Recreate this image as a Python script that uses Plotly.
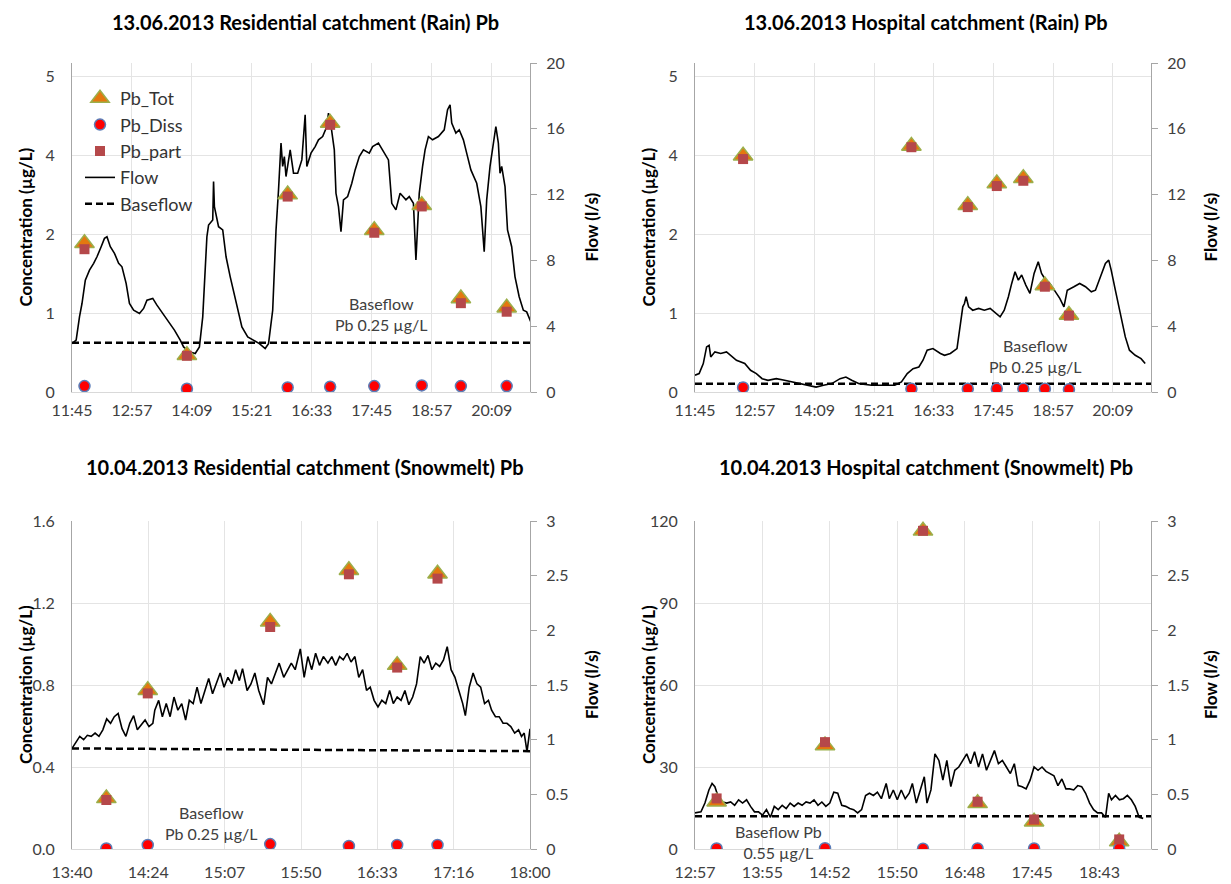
import plotly.graph_objects as go

# ---------------- data ----------------
# times are minutes after midnight
p1_time = [705, 710, 714, 717, 721, 726, 731, 735, 740, 744,
           747, 751, 756, 761, 765, 770, 774, 779, 786, 791,
           795, 802, 807, 814, 821, 828, 835, 839, 846, 853,
           858, 862, 867, 869, 874, 875, 876, 881, 886, 890,
           895, 902, 909, 916, 923, 930, 937, 941, 946, 948,
           950, 953, 956, 958, 960, 962, 967, 971, 976, 981,
           985, 987, 992, 997, 1001, 1006, 1011, 1013, 1015, 1020,
           1022, 1025, 1028, 1031, 1036, 1041, 1045, 1050, 1055, 1062,
           1066, 1073, 1080, 1085, 1089, 1094, 1099, 1106, 1110, 1115,
           1118, 1122, 1126, 1129, 1133, 1138, 1145, 1152, 1156, 1159,
           1161, 1166, 1170, 1175, 1180, 1184, 1191, 1196, 1200, 1203,
           1207, 1212, 1214, 1217, 1219, 1221, 1225, 1228, 1233, 1237,
           1242, 1247, 1251, 1256]
p1_flow = [2.94, 3.15, 4.57, 5.38, 6.80, 7.41, 7.82, 8.22, 8.83, 9.34,
           9.44, 8.83, 8.43, 7.82, 7.61, 6.60, 5.38, 4.97, 4.77, 5.08,
           5.58, 5.69, 5.28, 4.77, 4.26, 3.76, 3.15, 2.74, 2.44, 2.34,
           2.74, 4.57, 9.44, 10.15, 10.46, 12.79, 11.27, 10.05, 9.85, 8.22,
           7.00, 5.38, 3.96, 3.35, 3.15, 2.94, 2.64, 2.94, 4.97, 7.61,
           9.85, 12.28, 15.13, 13.71, 14.31, 13.10, 14.72, 13.30, 13.30, 14.11,
           16.85, 13.71, 14.52, 14.92, 15.33, 15.53, 16.14, 16.95, 16.55, 14.72,
           12.08, 11.27, 9.75, 11.68, 11.88, 12.69, 13.50, 14.31, 14.72, 14.52,
           14.92, 15.13, 14.52, 14.11, 11.47, 11.07, 12.08, 11.68, 11.88, 11.47,
           8.02, 12.08, 13.71, 14.72, 15.53, 15.33, 15.53, 15.94, 17.16, 17.46,
           16.35, 15.74, 15.94, 15.33, 14.31, 13.50, 12.69, 11.27, 8.53, 11.68,
           13.71, 15.53, 16.14, 15.13, 13.30, 13.71, 12.49, 9.85, 8.83, 7.00,
           5.79, 4.97, 4.87, 4.26]

p2_time = [705, 710, 715, 719, 722, 724, 729, 736, 743, 748,
           755, 765, 772, 779, 786, 793, 803, 813, 822, 832,
           841, 851, 860, 870, 880, 887, 894, 903, 918, 932,
           946, 954, 961, 968, 975, 980, 985, 992, 1001, 1006,
           1013, 1021, 1025, 1028, 1030, 1032, 1035, 1040, 1047, 1054,
           1061, 1068, 1073, 1078, 1083, 1087, 1091, 1095, 1099, 1104,
           1109, 1114, 1119, 1123, 1128, 1133, 1138, 1145, 1150, 1154,
           1162, 1169, 1176, 1183, 1188, 1195, 1200, 1204, 1207, 1212,
           1219, 1224, 1229, 1236, 1243, 1248]
p2_flow = [1.02, 1.12, 1.73, 2.74, 2.84, 2.13, 2.44, 2.34, 2.44, 2.23,
           1.93, 1.73, 1.32, 1.12, 0.81, 0.71, 0.81, 0.71, 0.61, 0.51,
           0.41, 0.30, 0.41, 0.51, 0.81, 0.91, 0.71, 0.51, 0.41, 0.41,
           0.41, 0.61, 1.12, 1.42, 1.52, 1.93, 2.54, 2.64, 2.34, 2.23,
           2.34, 2.64, 4.16, 5.18, 5.38, 5.79, 5.18, 4.97, 5.08, 4.97,
           5.08, 4.77, 4.57, 4.97, 5.79, 6.60, 7.31, 6.80, 7.11, 6.50,
           5.99, 7.21, 7.92, 7.21, 6.80, 6.60, 6.19, 5.69, 5.18, 6.19,
           6.40, 6.60, 6.40, 6.09, 6.19, 7.21, 7.82, 8.02, 7.41, 6.19,
           4.57, 3.35, 2.54, 2.23, 2.03, 1.73]

p3_time = [820.0, 822.2, 824.4, 826.6, 828.7, 830.9, 833.1, 835.3, 837.5, 839.7,
           841.9, 844.0, 846.2, 848.4, 850.6, 852.8, 855.0, 857.1, 859.3, 861.5,
           863.7, 865.9, 867.0, 869.2, 871.3, 873.5, 875.7, 877.9, 880.1, 882.3,
           884.5, 886.6, 888.8, 891.0, 893.2, 895.4, 897.6, 899.8, 901.9, 904.1,
           906.3, 908.5, 910.7, 912.9, 915.0, 916.8, 919.4, 921.6, 923.8, 926.0,
           928.8, 931.0, 933.2, 935.4, 937.6, 940.2, 942.4, 944.5, 946.7, 949.6,
           951.8, 953.9, 956.1, 958.3, 960.5, 962.7, 965.3, 967.5, 969.7, 971.9,
           974.0, 976.2, 978.4, 980.6, 982.8, 985.0, 987.2, 989.3, 991.5, 993.7,
           995.9, 998.1, 1000.3, 1002.4, 1004.6, 1006.8, 1009.0, 1011.2, 1013.4, 1015.6,
           1017.7, 1019.9, 1022.1, 1024.3, 1026.5, 1028.7, 1030.9, 1033.0, 1035.2, 1037.4,
           1039.6, 1041.8, 1043.3, 1045.5, 1047.7, 1049.9, 1052.0, 1054.2, 1056.4, 1058.2,
           1060.4, 1062.5, 1064.7, 1066.9, 1069.1, 1071.3, 1073.5, 1075.2, 1076.7, 1078.3,
           1080.0]
p3_flow = [0.92, 0.98, 1.03, 1.00, 1.04, 1.03, 1.06, 1.03, 1.09, 1.19,
           1.15, 1.21, 1.24, 1.10, 1.03, 1.15, 1.22, 1.09, 1.13, 1.18,
           1.12, 1.15, 1.27, 1.36, 1.21, 1.33, 1.21, 1.39, 1.27, 1.33,
           1.18, 1.36, 1.33, 1.48, 1.33, 1.45, 1.56, 1.42, 1.51, 1.61,
           1.48, 1.57, 1.51, 1.64, 1.54, 1.65, 1.45, 1.51, 1.61, 1.45,
           1.32, 1.57, 1.51, 1.61, 1.70, 1.57, 1.64, 1.70, 1.64, 1.83,
           1.57, 1.76, 1.64, 1.79, 1.68, 1.76, 1.70, 1.76, 1.68, 1.76,
           1.73, 1.79, 1.71, 1.76, 1.57, 1.64, 1.45, 1.48, 1.36, 1.30,
           1.36, 1.33, 1.45, 1.33, 1.39, 1.36, 1.45, 1.32, 1.39, 1.51,
           1.76, 1.70, 1.77, 1.64, 1.70, 1.67, 1.73, 1.85, 1.64, 1.57,
           1.45, 1.33, 1.22, 1.48, 1.61, 1.51, 1.48, 1.33, 1.36, 1.27,
           1.21, 1.21, 1.15, 1.15, 1.12, 1.06, 1.09, 1.03, 1.06, 0.89,
           1.10]

p4_time = [777.0, 782.1, 785.5, 788.9, 791.6, 794.0, 797.4, 800.7, 804.1, 807.5,
           810.9, 814.3, 817.7, 821.1, 824.5, 827.9, 831.3, 834.7, 838.1, 841.5,
           844.8, 848.2, 851.6, 855.0, 858.4, 861.8, 865.2, 868.6, 872.0, 875.4,
           878.8, 882.2, 885.5, 888.9, 892.3, 895.7, 899.1, 902.5, 905.9, 909.3,
           912.7, 916.1, 919.5, 922.9, 926.2, 929.6, 933.0, 936.4, 940.5, 943.2,
           946.6, 950.0, 953.4, 956.8, 960.2, 962.9, 966.3, 969.7, 973.1, 975.4,
           978.8, 982.2, 985.6, 989.0, 992.4, 995.8, 999.2, 1002.6, 1006.0, 1009.4,
           1012.7, 1016.1, 1019.5, 1022.9, 1026.3, 1029.7, 1033.1, 1036.5, 1039.9, 1043.3,
           1046.7, 1050.1, 1053.4, 1056.8, 1060.2, 1063.6, 1067.0, 1070.4, 1073.8, 1077.2,
           1080.6, 1084.0, 1087.4, 1090.8, 1094.2, 1097.5, 1100.9, 1104.3, 1107.7, 1111.1,
           1114.5, 1117.9, 1121.3, 1124.7, 1128.1, 1130.8, 1133.2, 1136.6, 1140.0, 1143.4,
           1146.8, 1150.2, 1153.5, 1156.9, 1160.3]
p4_flow = [0.33, 0.34, 0.42, 0.54, 0.60, 0.57, 0.46, 0.43, 0.42, 0.43,
           0.40, 0.45, 0.42, 0.45, 0.39, 0.34, 0.34, 0.31, 0.36, 0.29,
           0.39, 0.36, 0.40, 0.37, 0.42, 0.39, 0.42, 0.40, 0.43, 0.42,
           0.45, 0.40, 0.43, 0.39, 0.42, 0.52, 0.51, 0.40, 0.39, 0.37,
           0.36, 0.33, 0.36, 0.49, 0.51, 0.49, 0.52, 0.46, 0.60, 0.46,
           0.54, 0.45, 0.54, 0.46, 0.51, 0.60, 0.42, 0.54, 0.66, 0.42,
           0.54, 0.87, 0.81, 0.63, 0.81, 0.57, 0.72, 0.75, 0.81, 0.87,
           0.78, 0.89, 0.75, 0.87, 0.72, 0.81, 0.90, 0.78, 0.81, 0.75,
           0.69, 0.78, 0.58, 0.57, 0.55, 0.63, 0.75, 0.72, 0.75, 0.71,
           0.69, 0.67, 0.58, 0.64, 0.55, 0.55, 0.54, 0.58, 0.57, 0.51,
           0.42, 0.36, 0.33, 0.33, 0.29, 0.51, 0.45, 0.49, 0.45, 0.46,
           0.49, 0.45, 0.39, 0.29, 0.28]

# sampling times and Pb concentrations (µg/L)
p1_samp = [720, 843, 964, 1015, 1068, 1125, 1172, 1227]
p1_tot = [2.26, 0.56, 3.00, 4.09, 2.46, 2.84, 1.42, 1.28]
p1_diss = [0.09, 0.05, 0.07, 0.08, 0.09, 0.10, 0.09, 0.09]
p1_part = [2.17, 0.55, 2.97, 4.06, 2.42, 2.82, 1.35, 1.22]

p2_samp = [763, 966, 1034, 1069, 1101, 1127, 1156]
p2_tot = [3.59, 3.74, 2.84, 3.17, 3.25, 1.62, 1.17]
p2_diss = [0.07, 0.05, 0.05, 0.05, 0.05, 0.05, 0.04]
p2_part = [3.54, 3.72, 2.81, 3.13, 3.21, 1.60, 1.16]

p3_samp = [839.5, 863, 932.5, 977.2, 1004.6, 1027.5]
p3_tot = [0.247, 0.775, 1.108, 1.36, 0.897, 1.343]
p3_diss = [0.003, 0.02, 0.024, 0.015, 0.02, 0.02]
p3_part = [0.239, 0.759, 1.083, 1.34, 0.885, 1.319]

p4_samp = [795.5, 888.2, 972, 1018.7, 1067, 1139.8]
p4_tot = [17.3, 37.9, 116.4, 16.7, 10.0, 2.7]
p4_diss = [0.2, 0.3, 0.1, 0.2, 0.2, 0.2]
p4_part = [18.5, 39.1, 116.4, 17.3, 10.8, 3.5]

# baseflow (l/s) at start and end of each record
p1_base = [3.0, 3.0]
p2_base = [0.5, 0.5]
p3_base = [0.92, 0.895]
p4_base = [0.3, 0.3]

titles = ["13.06.2013 Residential catchment (Rain) Pb",
          "13.06.2013 Hospital catchment (Rain) Pb",
          "10.04.2013 Residential catchment (Snowmelt) Pb",
          "10.04.2013 Hospital catchment (Snowmelt) Pb"]

rain_ticks = [705, 777, 849, 921, 993, 1065, 1137, 1209]
rain_labels = ["11:45", "12:57", "14:09", "15:21", "16:33", "17:45", "18:57", "20:09"]
res_snow_ticks = [820, 863.33, 906.67, 950, 993.33, 1036.67, 1080]
res_snow_labels = ["13:40", "14:24", "15:07", "15:50", "16:33", "17:16", "18:00"]
hos_snow_ticks = [777, 834.67, 892.33, 950, 1007.67, 1065.33, 1123]
hos_snow_labels = ["12:57", "13:55", "14:52", "15:50", "16:48", "17:45", "18:43"]

rain_conc_ticks = [0, 1.2, 2.4, 3.6, 4.8]
rain_conc_labels = ["0", "1", "2", "4", "5"]

# ---------------- styling ----------------
FONT = "Lato, Carlito, 'Open Sans', sans-serif"
TICK_FONT = dict(family=FONT, size=16, color="#404040")
GRID = "#e4e4e4"
AXLINE = "#a6a6a6"
W, H = 1231, 884

panels = [
    dict(t=p1_time, f=p1_flow, s=p1_samp, tot=p1_tot, diss=p1_diss, part=p1_part,
         base=p1_base, xr=[705, 1255], xt=rain_ticks, xl=rain_labels,
         cr=[0, 5], ct=rain_conc_ticks, cl=rain_conc_labels,
         fr=[0, 20], ft=[0, 4, 8, 12, 16, 20], fl=["0", "4", "8", "12", "16", "20"],
         px=(72, 530), py=(63, 392), xsd=4),
    dict(t=p2_time, f=p2_flow, s=p2_samp, tot=p2_tot, diss=p2_diss, part=p2_part,
         base=p2_base, xr=[705, 1255], xt=rain_ticks, xl=rain_labels,
         cr=[0, 5], ct=rain_conc_ticks, cl=rain_conc_labels,
         fr=[0, 20], ft=[0, 4, 8, 12, 16, 20], fl=["0", "4", "8", "12", "16", "20"],
         px=(695, 1151), py=(63, 392), xsd=4),
    dict(t=p3_time, f=p3_flow, s=p3_samp, tot=p3_tot, diss=p3_diss, part=p3_part,
         base=p3_base, xr=[820, 1080], xt=res_snow_ticks, xl=res_snow_labels,
         cr=[0, 1.6], ct=[0, 0.4, 0.8, 1.2, 1.6], cl=["0.0", "0.4", "0.8", "1.2", "1.6"],
         fr=[0, 3], ft=[0, 0.5, 1, 1.5, 2, 2.5, 3], fl=["0", "0.5", "1", "1.5", "2", "2.5", "3"],
         px=(72, 530), py=(521, 849), xsd=9),
    dict(t=p4_time, f=p4_flow, s=p4_samp, tot=p4_tot, diss=p4_diss, part=p4_part,
         base=p4_base, xr=[777, 1167], xt=hos_snow_ticks, xl=hos_snow_labels,
         cr=[0, 120], ct=[0, 30, 60, 90, 120], cl=["0", "30", "60", "90", "120"],
         fr=[0, 3], ft=[0, 0.5, 1, 1.5, 2, 2.5, 3], fl=["0", "0.5", "1", "1.5", "2", "2.5", "3"],
         px=(695, 1151), py=(521, 849), xsd=9),
]

fig = go.Figure()
layout = {}
annotations = []

for i, p in enumerate(panels):
    n = i + 1
    xid = "x" if n == 1 else f"x{n}"
    fy = 2 * n - 1            # flow axis (right)
    cy = 2 * n                # concentration axis (left, overlaid on top)
    fyid = "y" if fy == 1 else f"y{fy}"
    cyid = f"y{cy}"
    xkey = "xaxis" if n == 1 else f"xaxis{n}"
    fkey = "yaxis" if fy == 1 else f"yaxis{fy}"
    ckey = f"yaxis{cy}"
    dx = [p["px"][0] / W, p["px"][1] / W]
    dy = [1 - p["py"][1] / H, 1 - p["py"][0] / H]
    show = n == 1

    layout[xkey] = dict(domain=dx, anchor=fyid, range=p["xr"], tickmode="array",
                        tickvals=p["xt"], ticktext=p["xl"], showgrid=True,
                        gridcolor=GRID, gridwidth=1, showline=True, linecolor="#d9d9d9",
                        ticks="", zeroline=False, tickfont=TICK_FONT, fixedrange=True,
                        automargin=False, ticklabelstandoff=p["xsd"])
    layout[fkey] = dict(domain=dy, anchor=xid, side="right", range=p["fr"],
                        tickmode="array", tickvals=p["ft"], ticktext=p["fl"],
                        showgrid=False, showline=True, linecolor=AXLINE, linewidth=1,
                        ticks="outside", ticklen=6, tickcolor=AXLINE,
                        zeroline=False, tickfont=TICK_FONT, fixedrange=True,
                        automargin=False, ticklabelstandoff=6)
    layout[ckey] = dict(overlaying=fyid, anchor=xid, side="left", range=p["cr"],
                        tickmode="array", tickvals=p["ct"], ticktext=p["cl"],
                        showgrid=True, gridcolor=GRID, gridwidth=1,
                        showline=True, linecolor=AXLINE, linewidth=1, ticks="",
                        zeroline=False, tickfont=TICK_FONT, fixedrange=True,
                        automargin=False, ticklabelstandoff=13)

    # concentration markers
    fig.add_trace(go.Scatter(x=p["s"], y=p["tot"], xaxis=xid, yaxis=cyid, mode="markers",
                             name="Pb_Tot", legendgroup="tot", showlegend=show,
                             marker=dict(symbol="triangle-up", size=17, color="#E4780F",
                                         line=dict(color="#9BAF4B", width=1.5))))
    fig.add_trace(go.Scatter(x=p["s"], y=p["diss"], xaxis=xid, yaxis=cyid, mode="markers",
                             name="Pb_Diss", legendgroup="diss", showlegend=show,
                             marker=dict(symbol="circle", size=11, color="#FF0000",
                                         line=dict(color="#5B7DB8", width=1.5))))
    fig.add_trace(go.Scatter(x=p["s"], y=p["part"], xaxis=xid, yaxis=cyid, mode="markers",
                             name="Pb_part", legendgroup="part", showlegend=show,
                             marker=dict(symbol="square", size=10, color="#B5484A",
                                         line=dict(color="#B5484A", width=0))))
    # flow and baseflow
    fig.add_trace(go.Scatter(x=p["t"], y=p["f"], xaxis=xid, yaxis=fyid, mode="lines",
                             name="Flow", legendgroup="flow", showlegend=show,
                             line=dict(color="black", width=1.6)))
    fig.add_trace(go.Scatter(x=[p["xr"][0], p["xr"][1]], y=p["base"], xaxis=xid, yaxis=fyid,
                             mode="lines", name="Baseflow", legendgroup="base", showlegend=show,
                             line=dict(color="black", width=2.5, dash="7px,4px")))

    # panel title
    annotations.append(dict(text=f"<b>{titles[i]}</b>", xref="paper", yref="paper",
                            x=(305 if n in (1, 3) else 926) / W,
                            y=1 - (22 if n <= 2 else 467) / H,
                            showarrow=False, xanchor="center", yanchor="middle",
                            font=dict(family=FONT, size=20, color="black")))
    # axis titles
    annotations.append(dict(text="<b>Concentration (µg/L)</b>", xref="paper", yref="paper",
                            x=(25 if n in (1, 3) else 648) / W,
                            y=1 - ((p["py"][0] + p["py"][1]) / 2) / H,
                            textangle=-90, showarrow=False, xanchor="center", yanchor="middle",
                            font=dict(family=FONT, size=17, color="black")))
    annotations.append(dict(text="<b>Flow (l/s)</b>", xref="paper", yref="paper",
                            x=(591 if n in (1, 3) else 1210) / W,
                            y=1 - ((p["py"][0] + p["py"][1]) / 2) / H,
                            textangle=-90, showarrow=False, xanchor="center", yanchor="middle",
                            font=dict(family=FONT, size=17, color="black")))

NOTE_FONT = dict(family=FONT, size=16, color="#404040")
annotations += [
    dict(text="Baseflow<br>Pb 0.25 µg/L", xref="x", yref="y", x=1077, y=4.75,
         showarrow=False, font=NOTE_FONT, align="center"),
    dict(text="Baseflow<br>Pb 0.25 µg/L", xref="x2", yref="y3", x=1116, y=2.2,
         showarrow=False, font=NOTE_FONT, align="center"),
    dict(text="Baseflow<br>Pb 0.25 µg/L", xref="x3", yref="y6", x=899, y=0.129,
         showarrow=False, font=NOTE_FONT, align="center"),
    dict(text="Baseflow Pb<br>0.55 µg/L", xref="x4", yref="y8", x=848, y=2.6,
         showarrow=False, font=NOTE_FONT, align="center"),
]

fig.update_layout(
    width=W, height=H, margin=dict(l=0, r=0, t=0, b=0, autoexpand=False),
    paper_bgcolor="white", plot_bgcolor="white",
    font=dict(family=FONT, color="#404040"),
    annotations=annotations,
    showlegend=True,
    legend=dict(x=80 / W, y=1 - 80 / H, xanchor="left", yanchor="top",
                bgcolor="rgba(0,0,0,0)", font=dict(family=FONT, size=18, color="#333333"),
                traceorder="normal", itemwidth=30, tracegroupgap=0),
    **layout,
)

fig.write_html("out.html")
